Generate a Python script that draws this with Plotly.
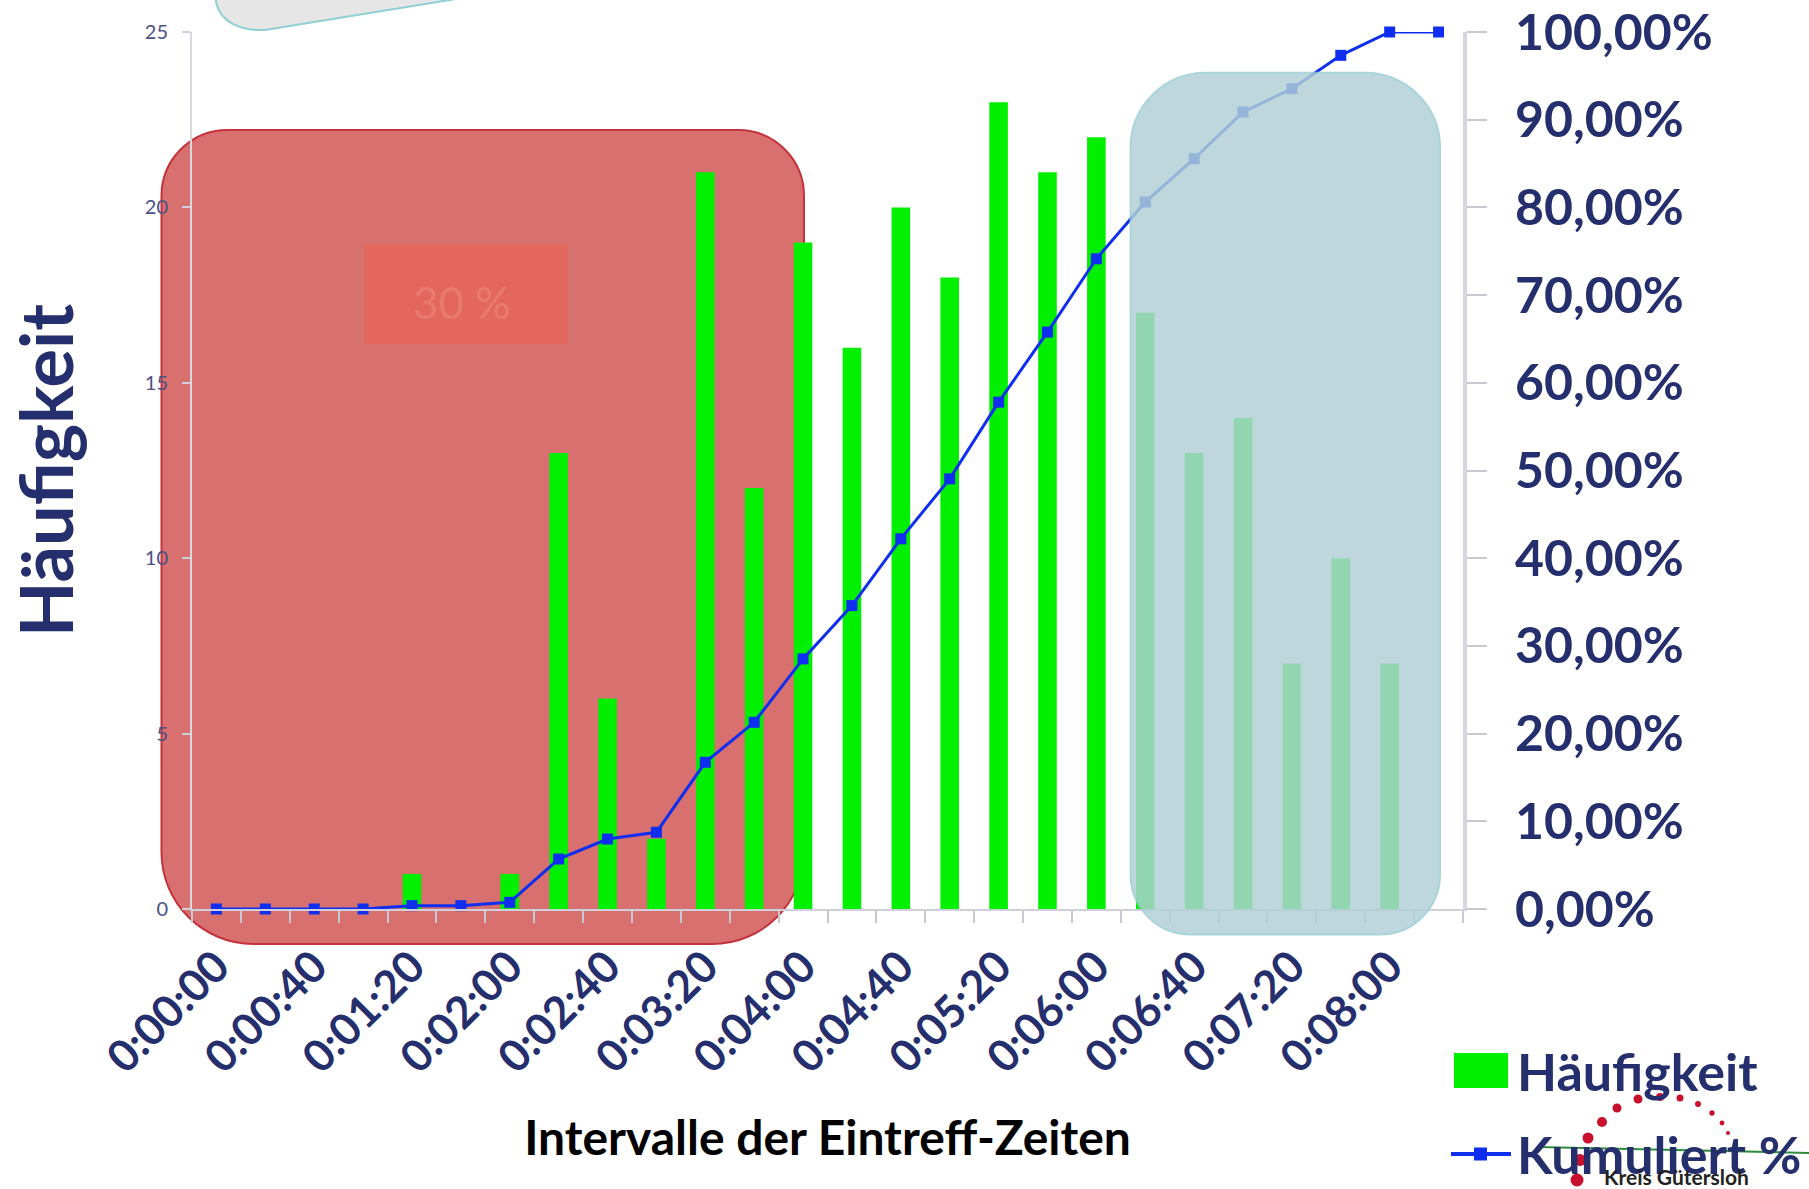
import plotly.graph_objects as go

# ---------------- data ----------------
categories = ["0:00:00", "0:00:20", "0:00:40", "0:01:00", "0:01:20", "0:01:40",
              "0:02:00", "0:02:20", "0:02:40", "0:03:00", "0:03:20", "0:03:40",
              "0:04:00", "0:04:20", "0:04:40", "0:05:00", "0:05:20", "0:05:40",
              "0:06:00", "0:06:20", "0:06:40", "0:07:00", "0:07:20", "0:07:40",
              "0:08:00", "Weitere"]
haeufigkeit = [0, 0, 0, 0, 1, 0, 1, 13, 6, 2, 21, 12, 19, 16, 20, 18, 23, 21,
               22, 17, 13, 14, 7, 10, 7, 0]
kumuliert = [0.0, 0.0, 0.0, 0.0, 0.0038, 0.0038, 0.0076, 0.0570, 0.0798, 0.0875,
             0.1673, 0.2129, 0.2852, 0.3460, 0.4221, 0.4905, 0.5779, 0.6578,
             0.7414, 0.8061, 0.8555, 0.9087, 0.9354, 0.9734, 1.0, 1.0]
tick_labels = ["0:00:00", "", "0:00:40", "", "0:01:20", "", "0:02:00", "",
               "0:02:40", "", "0:03:20", "", "0:04:00", "", "0:04:40", "",
               "0:05:20", "", "0:06:00", "", "0:06:40", "", "0:07:20", "",
               "0:08:00", ""]
left_ticks = [0, 5, 10, 15, 20, 25]
right_ticks = [0, 0.1, 0.2, 0.3, 0.4, 0.5, 0.6, 0.7, 0.8, 0.9, 1.0]

# ---------------- geometry helpers ----------------
W, H = 1809, 1189
ML, MR, MT, MB = 192, 346, 32, 280
PW, PH = W - ML - MR, H - MT - MB


def px(x):
    return (x - ML) / PW


def py(y):
    return (H - MB - y) / PH


def rrect_path(x0, y0, x1, y1, rt, rb):
    k = 0.4477  # 1 - 0.5523
    pts = []
    pts.append(f"M{px(x0 + rt)},{py(y0)}")
    pts.append(f"L{px(x1 - rt)},{py(y0)}")
    pts.append(f"C{px(x1 - rt * k)},{py(y0)} {px(x1)},{py(y0 + rt * k)} {px(x1)},{py(y0 + rt)}")
    pts.append(f"L{px(x1)},{py(y1 - rb)}")
    pts.append(f"C{px(x1)},{py(y1 - rb * k)} {px(x1 - rb * k)},{py(y1)} {px(x1 - rb)},{py(y1)}")
    pts.append(f"L{px(x0 + rb)},{py(y1)}")
    pts.append(f"C{px(x0 + rb * k)},{py(y1)} {px(x0)},{py(y1 - rb * k)} {px(x0)},{py(y1 - rb)}")
    pts.append(f"L{px(x0)},{py(y0 + rt)}")
    pts.append(f"C{px(x0)},{py(y0 + rt * k)} {px(x0 + rt * k)},{py(y0)} {px(x0 + rt)},{py(y0)}")
    pts.append("Z")
    return " ".join(pts)


NAVY = "#262f6d"
FONT = "Lato"
GREEN = "#00f000"
BLUE = "#0f2ef0"

fig = go.Figure()
fig.add_trace(go.Bar(x=categories, y=haeufigkeit, name="Häufigkeit",
                     marker=dict(color=GREEN, line=dict(width=0)),
                     showlegend=False))
fig.add_trace(go.Scatter(x=categories, y=kumuliert, name="Kumuliert %", yaxis="y2",
                         mode="lines+markers", cliponaxis=False,
                         line=dict(color=BLUE, width=3),
                         marker=dict(symbol="square", size=11, color=BLUE),
                         showlegend=False))

shapes = []
# gray pill at top (partially visible)
pill = (f"M{px(214)},{py(-30)} L{px(216)},{py(2)} "
        f"C{px(220)},{py(22)} {px(240)},{py(31)} {px(265)},{py(30)} "
        f"L{px(462)},{py(-2)} L{px(462)},{py(-30)} Z")
shapes.append(dict(type="path", xref="paper", yref="paper", path=pill,
                   fillcolor="#e6e6e6", line=dict(color="#8fd0d3", width=2),
                   layer="above"))
# red rounded box (below traces)
shapes.append(dict(type="path", xref="paper", yref="paper",
                   path=rrect_path(161.5, 130, 804, 944, 66, 92),
                   fillcolor="#d7706e", line=dict(color="#c4333d", width=2),
                   layer="below"))
# inner 30 % box
shapes.append(dict(type="rect", xref="paper", yref="paper",
                   x0=px(364.5), x1=px(567.6), y0=py(343.8), y1=py(244.6),
                   fillcolor="#e3675d", line=dict(width=0), layer="below"))
# teal rounded box (above traces)
shapes.append(dict(type="path", xref="paper", yref="paper",
                   path=rrect_path(1130.6, 72.7, 1440, 934.5, 75, 60),
                   fillcolor="#b0d0d5", opacity=0.83,
                   line=dict(color="#98cdd2", width=2), layer="above"))

# manual legend
shapes.append(dict(type="rect", xref="paper", yref="paper",
                   x0=px(1454), x1=px(1508), y0=py(1088), y1=py(1053),
                   fillcolor=GREEN, line=dict(width=0), layer="above"))
shapes.append(dict(type="line", xref="paper", yref="paper",
                   x0=px(1451), x1=px(1511), y0=py(1154), y1=py(1154),
                   line=dict(color=BLUE, width=4), layer="above"))
shapes.append(dict(type="rect", xref="paper", yref="paper",
                   x0=px(1474), x1=px(1487), y0=py(1160.5), y1=py(1147.5),
                   fillcolor=BLUE, line=dict(width=0), layer="above"))

# logo: dotted arc + green line
dots = [(1577, 1180, 6.5), (1580, 1160, 6), (1588, 1138, 5.5), (1602, 1122, 5),
        (1617, 1108, 4.5), (1638, 1099, 4.5), (1660, 1097, 4), (1680, 1098, 3.5),
        (1698, 1104, 3), (1712, 1113, 2.7), (1722, 1123, 2.4), (1728, 1133, 2)]
for (cx, cy, r) in dots:
    shapes.append(dict(type="circle", xref="paper", yref="paper",
                       x0=px(cx - r), x1=px(cx + r), y0=py(cy + r), y1=py(cy - r),
                       fillcolor="#c8102e", line=dict(width=0), layer="above"))
shapes.append(dict(type="line", xref="paper", yref="paper",
                   x0=px(1537), x1=px(1809), y0=py(1147), y1=py(1153),
                   line=dict(color="#2e8b3e", width=2), layer="above"))

annotations = [
    dict(xref="paper", yref="paper", x=px(462), y=py(302), text="30 %",
         xanchor="center", yanchor="middle",
         showarrow=False, font=dict(family=FONT, size=44, color="#e97a6e")),
    dict(xref="paper", yref="paper", x=px(1515), y=py(1071), text="Häufigkeit",
         xanchor="left", yanchor="middle", showarrow=False,
         font=dict(family=FONT, size=52, color=NAVY, weight="bold")),
    dict(xref="paper", yref="paper", x=px(1515), y=py(1154), text="Kumuliert %",
         xanchor="left", yanchor="middle", showarrow=False,
         font=dict(family=FONT, size=52, color=NAVY, weight="bold")),
    dict(xref="paper", yref="paper", x=px(1602), y=py(1176), text="Kreis Gütersloh",
         xanchor="left", yanchor="middle", showarrow=False,
         font=dict(family=FONT, size=21, color="#222222", weight="bold")),
]

fig.update_layout(
    width=W, height=H,
    margin=dict(l=ML, r=MR, t=MT, b=MB, autoexpand=False),
    paper_bgcolor="white", plot_bgcolor="rgba(0,0,0,0)",
    separators=",.",
    bargap=0.62,
    showlegend=False,
    shapes=shapes,
    annotations=annotations,
    xaxis=dict(
        type="category", range=[-0.5, 25.5], tickmode="array", tickvals=categories,
        ticktext=tick_labels,
        tickangle=-45, tickson="boundaries", ticks="outside", ticklen=12,
        tickcolor="#c8c8d2", tickwidth=2, showline=True, linecolor="#d0d0da",
        linewidth=2, showgrid=False, automargin=False, ticklabelstandoff=12,
        tickfont=dict(family=FONT, size=44, color=NAVY, weight="bold"),
        title=dict(text="Intervalle der Eintreff-Zeiten", standoff=40,
                   font=dict(family=FONT, size=48, color="black", weight="bold")),
    ),
    yaxis=dict(
        range=[0, 25], tickmode="array", tickvals=left_ticks, ticks="outside",
        ticklen=8, tickcolor="#d0d0d8", tickwidth=2, showline=True,
        linecolor="#d8d8de", linewidth=2, showgrid=False, zeroline=False,
        automargin=False, ticklabelstandoff=10,
        tickfont=dict(family=FONT, size=20, color="#4b5185"),
        title=dict(text="Häufigkeit", standoff=48,
                   font=dict(family=FONT, size=72, color=NAVY, weight="bold")),
    ),
    yaxis2=dict(
        overlaying="y", side="right", range=[0, 1], tickmode="array",
        tickvals=right_ticks, tickformat=".2%", ticks="outside", ticklen=20,
        tickcolor="#c8c8d2", tickwidth=2, showline=True, linecolor="#d6d6de",
        linewidth=4, showgrid=False, zeroline=False, automargin=False,
        ticklabelstandoff=18,
        tickfont=dict(family=FONT, size=50, color=NAVY, weight="bold"),
    ),
)

fig.write_html("out.html", config={"displayModeBar": False},
               post_script="document.body.style.margin='0';document.body.style.overflow='hidden';")
